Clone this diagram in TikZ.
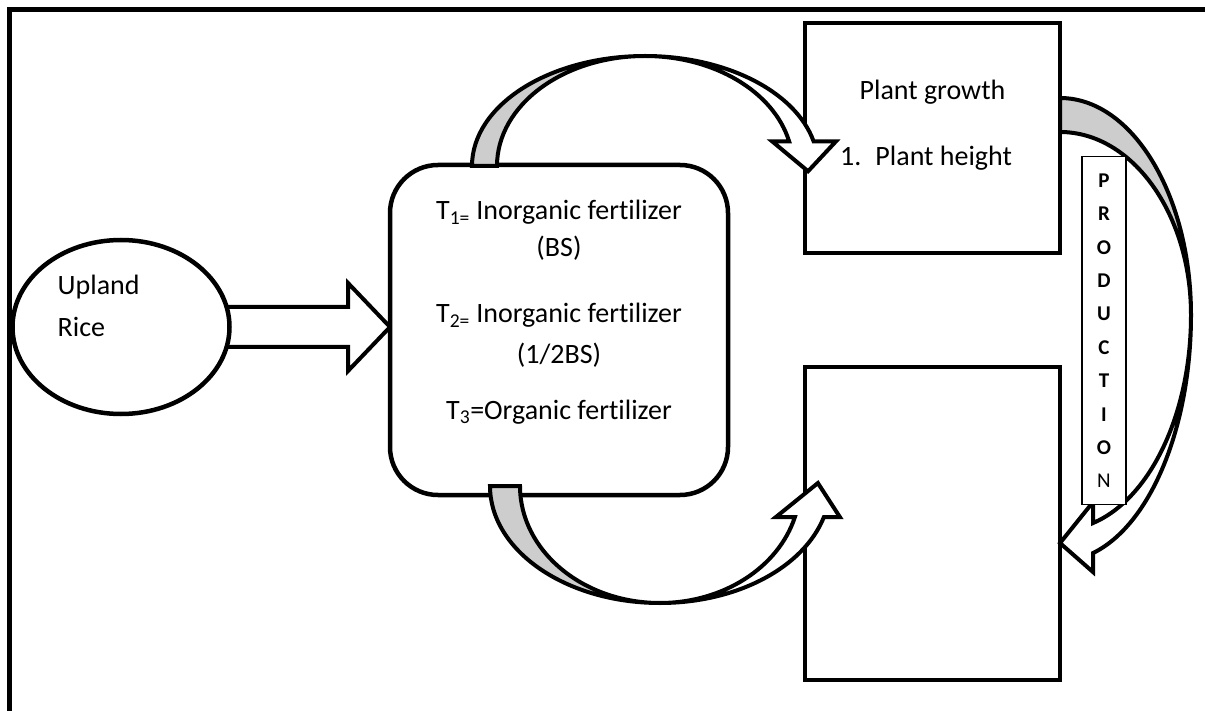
\documentclass[tikz,border=0pt]{standalone}
\usepackage{fontspec}
\setmainfont{Carlito}[Ligatures=NoCommon]
\usepackage{xcolor}
\usepackage{tikz}
\usetikzlibrary{calc,positioning,backgrounds,shapes.geometric}
\definecolor{bandback}{RGB}{205,205,205}

\begin{document}
\begin{tikzpicture}[x=1pt,y=-1pt,
  txt/.style={inner sep=0pt,font=\fontsize{28}{34}\selectfont},
  box/.style={draw,line width=4.5pt,fill=white,inner sep=0pt,outer sep=0pt},
  band/.style={draw,line width=4pt,line join=miter}]
\useasboundingbox (0,0) rectangle (1205,711);
% frame
\draw[line width=5pt] (9.5,730) -- (9.5,10) -- (1220,10);

% nodes
\node[box,ellipse,minimum width=217pt,minimum height=174pt] (rice) at (121,327) {};
\node[txt,anchor=base west] (upland) at ($(rice.west)+(45,-32)$) {Upland};
\node[txt,anchor=base west] (ricetxt) at ($(upland.base west)+(0,42)$) {Rice};

\node[box,rounded corners=48pt,minimum width=338pt,minimum height=330pt] (treat) at (559,330) {};
\foreach \dy/\txt [count=\i] in {55/{T\textsubscript{1=} Inorganic fertilizer},92/{(BS)},
    158/{T\textsubscript{2=} Inorganic fertilizer},198/{(1/2BS)},254/{T\textsubscript{3}=Organic fertilizer}}
  \node[txt,anchor=base] (treat\i) at ($(treat.north)+(0,\dy)$) {\txt};

\node[box,minimum width=255pt,minimum height=230pt] (growth) at (932.5,138) {};
\node[txt,anchor=base] (growthtitle) at ($(growth.north)+(0,77)$) {Plant growth};
\node[txt,anchor=base west] (height) at ($(growth.north west)+(35,143)$) {1.\hspace{14pt}Plant height};

\node[box,minimum width=255pt,minimum height=313pt,below=114pt of growth] (yield) {};

% straight arrow
\begin{scope}[on background layer]
  \draw[band,fill=white] ($(rice.east)+(-10,-20)$) -- ($(rice.east -| treat.west)+(-42,-20)$)
    -- ++(0,-24) -- (rice.east -| treat.west) -- ++(-42,44) -- ++(0,-24) -- ($(rice.east)+(-10,20)$);
\end{scope}

% curved arrows
\draw[band,fill=bandback] ($(treat.north west)+(82,1)$)
  arc[start angle=180,end angle=270,x radius=173,y radius=110]
  arc[start angle=270,end angle=180,x radius=148,y radius=110] -- cycle;
\draw[band,fill=white] ($(treat.north west)+(255,-109)$)
  arc[start angle=270,end angle=347,x radius=173,y radius=110]
  -- ++(22.5,0) -- ++(-28,30) -- ++(-36,-30) -- ++(17,0)
  arc[start angle=347,end angle=270,x radius=148,y radius=110] -- cycle;

\draw[band,fill=bandback] ($(treat.south west)+(100,-9)$)
  arc[start angle=180,end angle=90,x radius=170,y radius=117]
  arc[start angle=90,end angle=180,x radius=140,y radius=117] -- cycle;
\draw[band,fill=white] ($(treat.south west)+(270,108)$)
  arc[start angle=90,end angle=15.4,x radius=170,y radius=117]
  -- ++(16,0) -- ++(-22,-34) -- ++(-42,34) -- ++(19,0)
  arc[start angle=15.4,end angle=90,x radius=140,y radius=117] -- cycle;

\draw[band,fill=bandback] ($(growth.north east)+(0,75)$)
  arc[start angle=270,end angle=360,x radius=131,y radius=217]
  arc[start angle=360,end angle=270,x radius=131,y radius=183] -- cycle;
\draw[band,fill=white] ($(growth.north east)+(131,292)$)
  arc[start angle=0,end angle=75.4,x radius=131,y radius=246]
  -- ++(0,19) -- ++(-33,-29) -- ++(33,-41) -- ++(0,21)
  arc[start angle=75.4,end angle=0,x radius=131,y radius=215] -- cycle;

\node[draw,fill=white,line width=1.4pt,inner sep=0pt,minimum width=44pt,minimum height=348pt,
  align=center,font=\fontsize{21}{33.4}\selectfont\bfseries] (production)
  at ($(growth.east)!0.5!(yield.east)+(44,0)$) {P\\R\\O\\D\\U\\C\\T\\I\\O\\\mdseries N};
\end{tikzpicture}
\end{document}
